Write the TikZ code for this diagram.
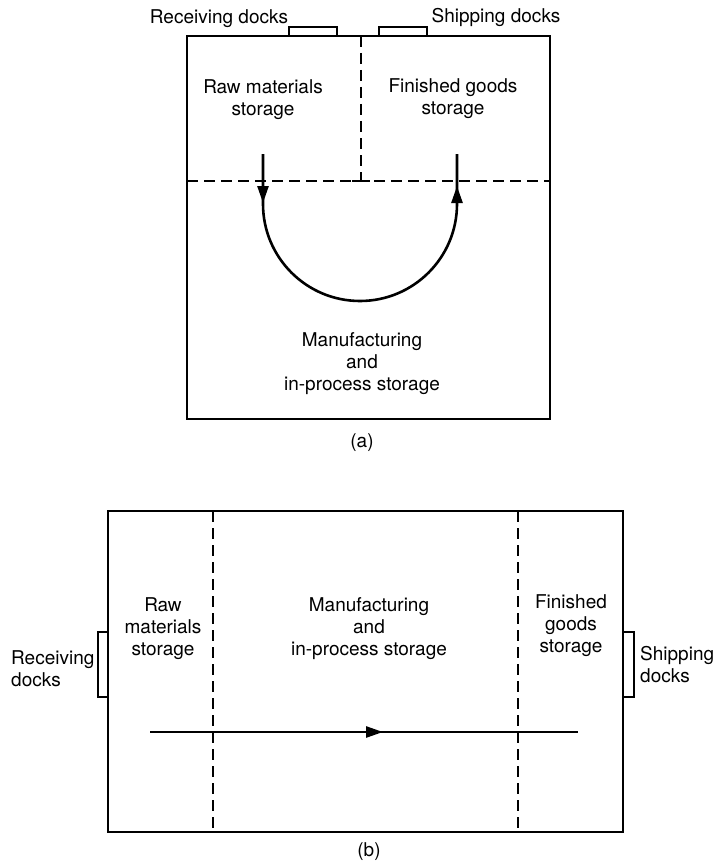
\documentclass[tikz,border=0pt]{standalone}
\usepackage{fontspec}
\setmainfont{TeX Gyre Heros}
\usetikzlibrary{arrows.meta}
\begin{document}
\begin{tikzpicture}[x=1pt,y=-1pt,
  wall/.style={line width=1.6pt},
  part/.style={line width=1.3pt,dash pattern=on 11pt off 6pt},
  flow/.style={line width=2.6pt},
  tip/.style={line width=2.6pt,-{Triangle[length=17pt,width=11pt]}},
  lbl/.style={font=\fontsize{19}{22}\selectfont,align=center,inner sep=0pt},
  lbll/.style={font=\fontsize{19}{22}\selectfont,align=left,inner sep=0pt}]
\useasboundingbox (0,0) rectangle (717,864);
% ---------- (a) ----------
\draw[wall] (187,36) rectangle (550,419);
\draw[wall] (289,36) -- (289,27) -- (337,27) -- (337,36);
\draw[wall] (379,36) -- (379,27) -- (427,27) -- (427,36);
\draw[part] (361,36) -- (361,181);
\draw[part] (187,181) -- (550,181);
\draw[wall] (352,181) -- (370,181);
\coordinate (aL) at (263,154);
\coordinate (aR) at (457,154);
\draw[flow] (aL) -- (263,204) arc[start angle=180,end angle=360,radius=97pt] -- (aR);
\draw[tip] (263,180) -- (263,203);
\draw[tip] (457,205) -- (457,186);
\node[lbl,anchor=base] (recA) at (219,24) {Receiving docks};
\node[lbl,anchor=base] (shipA) at (496,23) {Shipping docks};
\node[lbl] (rawA) at (263,100) {Raw materials\\storage};
\node[lbl] (finA) at (453,99) {Finished goods\\storage};
\node[lbl] (manA) at (362,364) {Manufacturing\\and\\in-process storage};
\node[lbl] (capA) at (362,443) {(a)};
% ---------- (b) ----------
\draw[wall] (108,511) rectangle (623,832);
\draw[wall] (108,632) -- (98,632) -- (98,697) -- (108,697);
\draw[wall] (623,632) -- (634,632) -- (634,697) -- (623,697);
\draw[part] (213,511) -- (213,832);
\draw[part] (518,511) -- (518,832);
\coordinate (bS) at (150,732);
\coordinate (bE) at (578,732);
\draw[flow] (bS) -- (bE);
\draw[tip] (350,732) -- (383,732);
\node[lbl] (rawB) at (163,629) {Raw\\materials\\storage};
\node[lbll,anchor=west] (recB) at (11,669) {Receiving\\docks};
\node[lbl] (manB) at (369,629) {Manufacturing\\and\\in-process storage};
\node[lbl] (finB) at (571,626) {Finished\\goods\\storage};
\node[lbll,anchor=west] (shipB) at (640,665) {Shipping\\docks};
\node[lbl] (capB) at (369,852) {(b)};
\end{tikzpicture}
\end{document}
